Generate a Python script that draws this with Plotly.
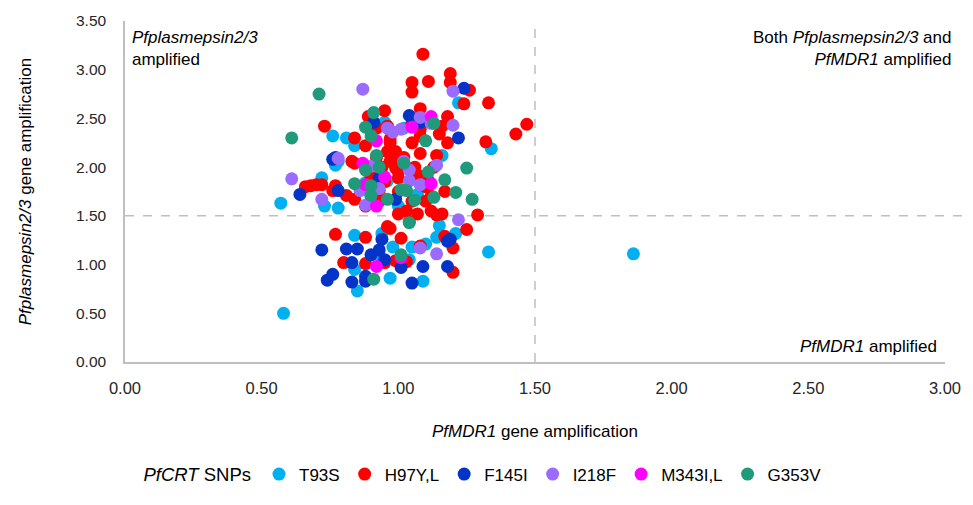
import plotly.graph_objects as go

# ---- data ----
series_names = ["T93S", "H97Y,L", "F145I", "I218F", "M343I,L", "G353V"]
series_colors = ["#00B0F0", "#FF0000", "#0433C8", "#9B6BFF", "#FF00FF", "#1F9A7B"]

t93s_x = [0.58, 0.57, 0.73, 0.78, 0.72, 0.77, 0.76, 0.81, 0.84, 0.95, 0.88, 0.96, 1.16, 1.22, 1.34,
          0.84, 0.94, 0.98, 1.05, 1.10, 1.15, 1.14, 1.21, 1.33, 0.97, 1.09, 0.85, 0.84, 1.86, 0.78,
          0.90, 1.02, 1.00, 1.07, 0.93, 1.04]
t93s_y = [0.50, 1.63, 1.60, 1.58, 1.89, 2.02, 2.32, 2.30, 2.22, 2.46, 1.84, 1.86, 2.12, 2.66, 2.19,
          1.30, 1.32, 1.18, 1.18, 1.21, 1.40, 1.28, 1.32, 1.13, 0.86, 0.83, 0.73, 0.95, 1.11, 2.06,
          1.70, 2.40, 1.60, 1.72, 1.10, 1.05]

h97_x = [1.09, 1.19, 1.19, 1.05, 1.11, 1.05, 1.26, 1.24, 1.33, 1.08, 1.18, 1.15, 1.16, 1.05, 1.32,
         1.43, 1.47, 1.08, 1.14, 0.99, 0.97, 1.07, 1.11, 1.00, 1.08, 1.08, 0.99, 1.29, 1.25, 1.20,
         1.20, 1.16, 1.07, 1.14, 1.00, 1.01, 0.97, 1.17, 1.08, 0.99, 1.03, 1.04, 0.77, 0.88, 0.80,
         0.88, 0.95, 0.96, 0.68, 0.70, 0.76, 0.81, 0.84, 0.93, 0.73, 0.84, 0.88, 0.95, 0.96, 0.97,
         0.84, 0.66, 0.72, 0.77, 0.89, 0.96, 0.83, 0.92, 0.94, 0.98, 1.00, 1.02, 0.95, 0.93, 1.00,
         1.05, 1.10, 1.12, 1.06, 0.90, 1.13, 1.17, 1.10, 1.03, 1.12, 0.88, 0.97, 1.18, 1.05, 0.92]
h97_y = [3.16, 2.96, 2.87, 2.87, 2.88, 2.77, 2.79, 2.65, 2.66, 2.60, 2.52, 2.34, 2.42, 2.25, 2.26,
         2.34, 2.44, 2.14, 2.12, 2.16, 2.29, 1.92, 1.86, 1.89, 2.32, 2.39, 1.99, 1.51, 1.36, 1.17,
         0.92, 1.52, 1.52, 1.51, 1.52, 1.27, 1.37, 1.29, 1.19, 1.04, 1.03, 1.44, 1.31, 1.28, 1.02,
         1.01, 1.02, 1.39, 1.81, 1.82, 1.76, 1.71, 1.67, 1.76, 2.42, 2.30, 2.22, 2.58, 2.16, 2.06,
         2.04, 1.80, 1.82, 1.81, 2.52, 2.42, 2.06, 2.10, 2.00, 2.05, 1.95, 2.10, 1.85, 1.65, 1.75,
         1.65, 1.80, 1.70, 2.00, 1.90, 2.00, 1.75, 1.65, 1.55, 1.55, 1.60, 2.25, 2.25, 2.45, 2.40]

f145_x = [0.72, 0.81, 0.85, 0.83, 0.76, 0.74, 0.83, 0.88, 0.88, 0.93, 0.90, 1.01, 1.09, 1.18, 1.05,
          1.18, 1.19, 0.78, 0.64, 0.93, 0.99, 1.24, 1.04, 1.22, 1.08, 0.91, 0.77, 0.76, 0.95, 0.94]
f145_y = [1.15, 1.16, 1.16, 1.02, 0.90, 0.84, 0.82, 0.88, 0.83, 1.15, 1.10, 0.97, 0.98, 0.98, 0.81,
          1.24, 1.26, 1.76, 1.72, 1.89, 1.67, 2.81, 2.53, 2.30, 2.46, 2.46, 2.10, 2.08, 1.05, 1.26]

i218_x = [0.87, 0.61, 0.78, 0.72, 1.20, 1.20, 1.08, 0.98, 1.01, 1.14, 1.04, 1.08, 1.04, 0.86, 0.88,
          1.22, 1.14, 1.08, 1.02, 0.90, 0.96, 0.93, 1.12]
i218_y = [2.80, 1.88, 2.09, 1.67, 2.78, 2.43, 2.51, 2.36, 2.39, 2.02, 1.97, 1.82, 1.86, 1.76, 1.61,
          1.46, 1.11, 1.17, 2.06, 2.01, 2.40, 1.78, 2.45]

m343_x = [0.92, 0.88, 1.12, 1.05, 1.12, 0.92, 0.87, 0.92, 1.01, 0.95]
m343_y = [1.60, 1.82, 1.83, 2.41, 2.52, 2.27, 2.04, 0.98, 1.07, 1.90]

g353_x = [0.71, 0.61, 0.84, 0.88, 0.91, 0.90, 1.13, 1.10, 0.92, 0.93, 0.88, 1.02, 1.25, 1.11, 1.17,
          0.90, 1.01, 1.03, 1.21, 1.27, 1.13, 1.06, 0.96, 0.90, 1.04, 1.01, 0.91]
g353_y = [2.75, 2.30, 1.83, 2.41, 2.56, 2.32, 2.45, 2.27, 2.12, 2.00, 1.97, 2.04, 1.99, 1.95, 1.87,
          1.81, 1.77, 1.76, 1.74, 1.67, 1.69, 1.66, 1.67, 1.71, 1.43, 1.10, 0.85]

x_ticks = [0.0, 0.5, 1.0, 1.5, 2.0, 2.5, 3.0]
y_ticks = [0.0, 0.5, 1.0, 1.5, 2.0, 2.5, 3.0, 3.5]
threshold = 1.5

xs = [t93s_x, h97_x, f145_x, i218_x, m343_x, g353_x]
ys = [t93s_y, h97_y, f145_y, i218_y, m343_y, g353_y]

FONT = "Liberation Sans, Arial, sans-serif"

fig = go.Figure()
for name, color, x, y in zip(series_names, series_colors, xs, ys):
    fig.add_trace(go.Scatter(
        x=x, y=y, mode="markers", name=name,
        marker=dict(size=13, color=color, line=dict(width=0)),
    ))

# threshold dashed lines
fig.add_shape(type="line", xref="x", yref="paper", x0=threshold, x1=threshold, y0=0, y1=1,
              line=dict(color="#BFBFBF", width=1.5, dash="dash"), layer="below")
fig.add_shape(type="line", xref="paper", yref="y", x0=0, x1=1.025, y0=threshold, y1=threshold,
              line=dict(color="#BFBFBF", width=1.5, dash="dash"), layer="below")

ann_font = dict(family=FONT, size=17, color="#000000")
fig.add_annotation(xref="paper", yref="paper", x=0.006, y=0.985, xanchor="left", yanchor="top",
                   text="<i>Pfplasmepsin2/3</i><br>amplified", showarrow=False, align="left",
                   font=ann_font)
fig.add_annotation(xref="paper", yref="paper", x=1.01, y=0.985, xanchor="right", yanchor="top",
                   text="Both <i>Pfplasmepsin2/3</i> and<br><i>PfMDR1</i> amplified", showarrow=False,
                   align="right", font=ann_font)
fig.add_annotation(xref="paper", yref="paper", x=0.993, y=0.045, xanchor="right", yanchor="middle",
                   text="<i>PfMDR1</i> amplified", showarrow=False, align="right", font=ann_font)

fig.update_layout(
    width=973, height=505,
    margin=dict(l=125, r=23, t=20, b=137),
    paper_bgcolor="white", plot_bgcolor="white",
    font=dict(family=FONT, color="#262626"),
    xaxis=dict(
        range=[0, 3], tickvals=x_ticks, tickformat=".2f", showgrid=False, zeroline=False,
        showline=True, linecolor="#BFBFBF", linewidth=1.5, ticks="", ticklabelstandoff=10,
        tickfont=dict(family=FONT, size=16.5, color="#262626"),
        title=dict(text="<i>PfMDR1</i> gene amplification",
                   font=dict(family=FONT, size=17, color="#000000"), standoff=30),
    ),
    yaxis=dict(
        range=[0, 3.5], tickvals=y_ticks, tickformat=".2f", showgrid=False, zeroline=False,
        showline=True, linecolor="#BFBFBF", linewidth=1.5, ticks="", ticklabelstandoff=14,
        tickfont=dict(family=FONT, size=15.5, color="#262626"),
        title=dict(text="<i>Pfplasmepsin2/3</i> gene amplification",
                   font=dict(family=FONT, size=17, color="#000000"), standoff=40),
    ),
    legend=dict(
        orientation="h", x=0.02, xanchor="left", y=-0.33, yanchor="middle",
        title=dict(text="<i>PfCRT</i> SNPs", font=dict(family=FONT, size=18.5, color="#000000")),
        font=dict(family=FONT, size=17, color="#000000"),
        bgcolor="rgba(0,0,0,0)",
    ),
    showlegend=True,
)

fig.write_html("out.html")
